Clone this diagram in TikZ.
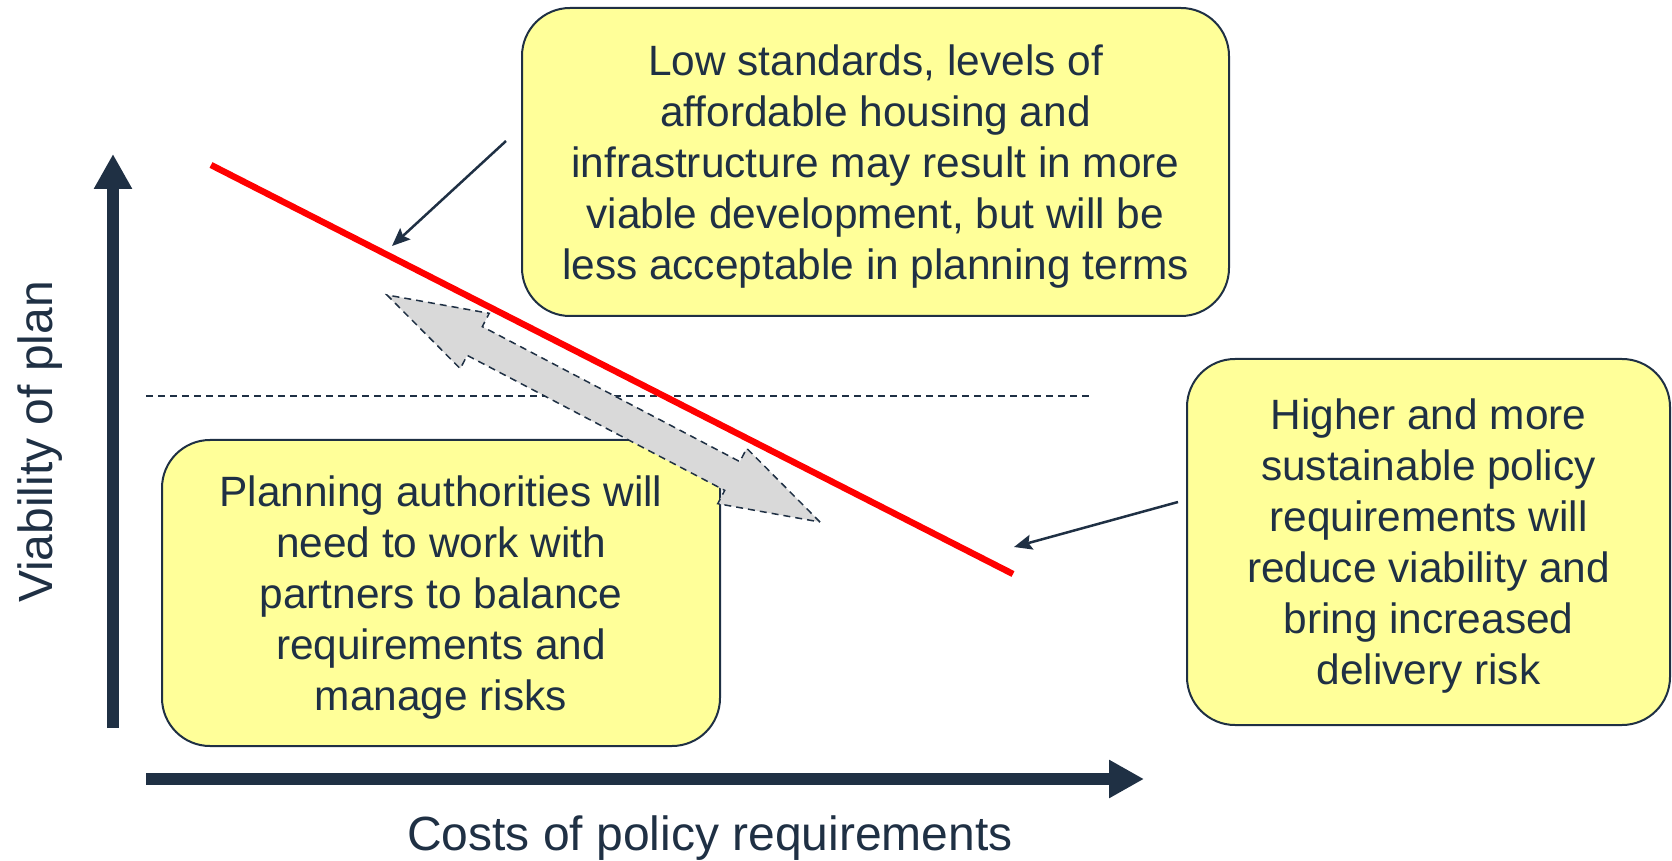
\documentclass[tikz,border=0pt]{standalone}
\usepackage{fontspec}
\setmainfont{Liberation Sans}
\usetikzlibrary{arrows.meta, calc, shapes.arrows}
\definecolor{cnavy}{HTML}{1F3044}
\definecolor{cyellow}{HTML}{FFFF99}
\definecolor{cred}{HTML}{FF0000}
\definecolor{cgrey}{HTML}{D9D9D9}
\tikzset{
  every picture/.style={line width=1pt},
  box/.style={draw=cnavy, fill=cyellow, rounded corners=24pt, align=center, inner sep=0pt, text=cnavy, font=\fontsize{21.2}{25.5}\selectfont,
    text depth=-1.5pt},
  axis/.style={-{Triangle[length=17.5pt, width=18pt]}, draw=cnavy, line width=6pt},
  callout/.style={-{Stealth[length=9pt, width=7.5pt, inset=1.5pt]}, draw=cnavy, line width=1.25pt},
  axislabel/.style={text=cnavy, font=\fontsize{24}{29}\selectfont},
}
\begin{document}
\begin{tikzpicture}[x=0.5pt, y=-0.5pt,
  guide/.style={draw=cnavy, line width=0.75pt, dash pattern=on 3.5pt off 2.5pt},
  trend/.style={draw=cred, line width=3.2pt},
  twoway/.style={double arrow, draw=cnavy, fill=cgrey, line width=0.75pt, dash pattern=on 3.5pt off 2.5pt, inner xsep=0pt, inner ysep=7.75pt,
    minimum width=30.5pt, double arrow head extend=7.5pt, double arrow tip angle=35}]
  \useasboundingbox (0,0) rectangle (1672,861);
  \coordinate (ybot) at (113,728); \coordinate (ytop) at (113,154);
  \coordinate (xbot) at (146,779); \coordinate (xtop) at (1144,779);
  \coordinate (guideA) at (146,396); \coordinate (guideB) at (1093,396);
  \coordinate (trendA) at (211,165); \coordinate (trendB) at (1013,574);
  \coordinate (dblA) at (387,295); \coordinate (dblB) at (820,522);
  \coordinate (lowfrom) at (506,141); \coordinate (lowto) at (392,246);
  \coordinate (highfrom) at (1178,502); \coordinate (highto) at (1014,547);
  \draw[guide] (guideA) -- (guideB);
  \draw[axis] (ybot) -- (ytop);
  \draw[axis] (xbot) -- (xtop);
  \node[box, minimum width=353.5pt, minimum height=154pt] (low) at (875.5,162)
    {Low standards, levels of\\affordable housing and\\infrastructure may result in more\\viable development, but will be\\less acceptable in planning terms};
  \node[box, minimum width=279pt, minimum height=153pt] (plan) at (441,593)
    {Planning authorities will\\need to work with\\partners to balance\\requirements and\\manage risks};
  \node[box, minimum width=241.5pt, minimum height=183pt] (high) at (1428.5,542)
    {Higher and more\\sustainable policy\\requirements will\\reduce viability and\\bring increased\\delivery risk};
  \node[twoway, minimum height=244.5pt, rotate=-27.67] (balance) at ($(dblA)!0.5!(dblB)$) {};
  \draw[trend] (trendA) -- (trendB);
  \draw[callout] (lowfrom) -- (lowto);
  \draw[callout] (highfrom) -- (highto);
  \node[axislabel, anchor=base] (costs) at (710,850) {Costs of policy requirements};
  \node[axislabel, rotate=90, anchor=base] (viab) at (53,442) {Viability of plan};
\end{tikzpicture}
\end{document}
